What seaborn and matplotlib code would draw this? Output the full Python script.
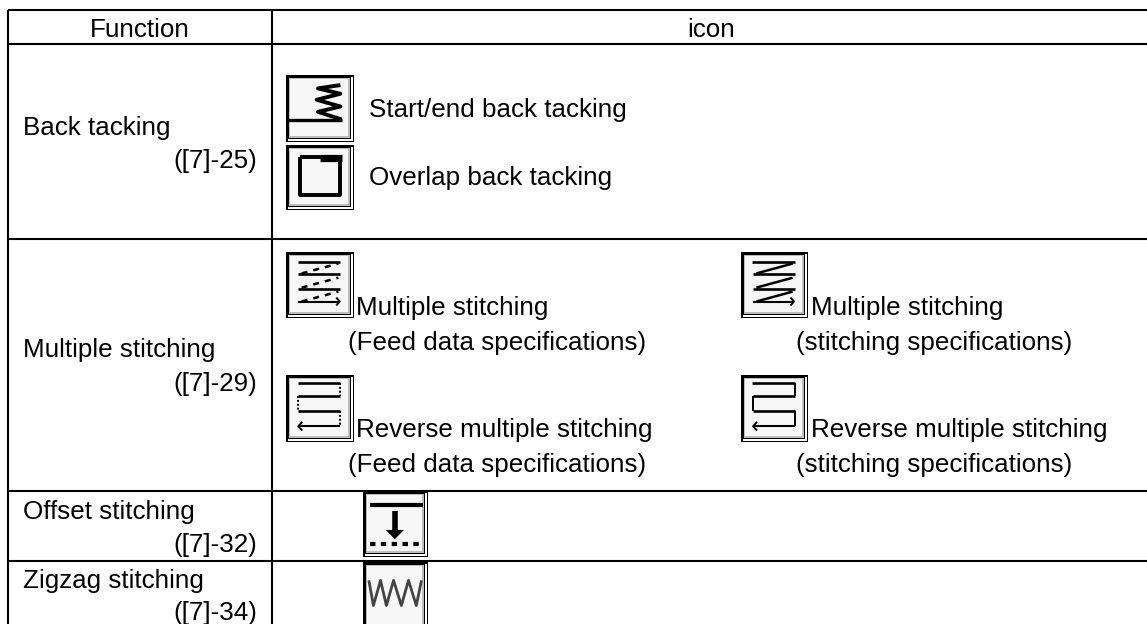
import matplotlib
matplotlib.use("Agg")
import matplotlib.pyplot as plt
from matplotlib.patches import Rectangle, Polygon
import seaborn as sns

sns.set_theme(style="white")
plt.rcParams['font.family'] = ['Liberation Sans', 'DejaVu Sans']

# ---- table content ----
headers = ["Function", "icon"]
function_names = ["Back tacking", "Multiple stitching", "Offset stitching", "Zigzag stitching"]
function_refs = ["([7]-25)", "([7]-29)", "([7]-32)", "([7]-34)"]
back_labels = ["Start/end back tacking", "Overlap back tacking"]
multi_titles = ["Multiple stitching", "Multiple stitching",
                "Reverse multiple stitching", "Reverse multiple stitching"]
multi_specs = ["(Feed data specifications)", "(stitching specifications)",
               "(Feed data specifications)", "(stitching specifications)"]

# ---- table geometry (pixels) ----
W, H = 1147, 624
row_lines = [10, 44, 239, 490.7, 560.7]
col_lines = [8, 272]
name_base = [135, 357, 519.5, 588]
ref_base = [168, 391, 552, 620]
back_base = [117, 185]
multi_title_base = [315, 315, 437, 437]
multi_spec_base = [350, 350, 472, 472]
multi_title_x = [356, 811, 356, 811]
multi_spec_x = [348, 796, 348, 796]

# ---- icon strokes: fractions of the icon box; (xs, ys, width, style) ----
icon_startend = [([0.03, 0.82], [0.665, 0.665], 2.4, '-'),
                 ([0.82, 0.47, 0.80, 0.45, 0.80, 0.47, 0.80],
                  [0.665, 0.55, 0.47, 0.37, 0.28, 0.20, 0.15], 2.8, '-')]
icon_overlap = [([0.20, 0.80, 0.80, 0.20, 0.20], [0.18, 0.18, 0.77, 0.77, 0.18], 2.8, '-'),
                ([0.50, 0.82], [0.20, 0.20], 5.2, '-')]
icon_multi_feed = [([0.17, 0.80], [0.15, 0.15], 1.9, '-'),
                   ([0.23, 0.77], [0.325, 0.175], 1.8, (0, (2.4, 2.4))),
                   ([0.18, 0.80], [0.34, 0.34], 1.9, '-'),
                   ([0.23, 0.77], [0.54, 0.39], 1.8, (0, (2.4, 2.4))),
                   ([0.18, 0.80], [0.56, 0.56], 1.9, '-'),
                   ([0.23, 0.77], [0.75, 0.60], 1.8, (0, (2.4, 2.4))),
                   ([0.18, 0.79], [0.75, 0.75], 1.5, '-'),
                   ([0.74, 0.79, 0.74], [0.69, 0.75, 0.81], 1.4, '-')]
icon_multi_stitch = [(xs, ys, w, '-') for xs, ys, w, _ in icon_multi_feed]
icon_rev_feed = [([0.17, 0.80], [0.125, 0.125], 1.9, '-'),
                 ([0.80, 0.80], [0.125, 0.315], 1.4, (0, (1, 1))),
                 ([0.80, 0.18], [0.315, 0.315], 1.9, '-'),
                 ([0.18, 0.18], [0.315, 0.535], 1.4, (0, (1, 1))),
                 ([0.18, 0.80], [0.535, 0.535], 1.9, '-'),
                 ([0.80, 0.80], [0.535, 0.765], 1.4, (0, (1, 1))),
                 ([0.80, 0.18], [0.765, 0.765], 1.5, '-'),
                 ([0.24, 0.18, 0.24], [0.70, 0.765, 0.83], 1.4, '-')]
icon_rev_stitch = [(xs, ys, w, '-') for xs, ys, w, _ in icon_rev_feed]
icon_offset = [([0.10, 0.92], [0.205, 0.205], 3.0, '-'),
               ([0.49, 0.49], [0.30, 0.60], 4.0, '-'),
               ([0.10, 0.92], [0.80, 0.80], 3.0, (0, (1.3, 1.3)))]
offset_head = [(0.35, 0.59), (0.63, 0.59), (0.49, 0.73)]
icon_zigzag = [([0.09, 0.16, 0.27, 0.36, 0.47, 0.59, 0.70, 0.82, 0.90],
                [0.27, 0.64, 0.27, 0.64, 0.27, 0.64, 0.27, 0.64, 0.27], 2.0, '-')]

# ---- icon boxes: left, top, right, bottom (pixels) ----
box_startend = (286, 75, 354, 142)
box_overlap = (286, 145, 354, 210)
box_multi_feed = (286, 252, 354, 318)
box_multi_stitch = (741, 252, 808, 318)
box_rev_feed = (286, 375, 354, 442)
box_rev_stitch = (741, 375, 808, 442)
box_offset = (363, 491, 428, 557)
box_zigzag = (363, 562, 428, 630)

fig = plt.figure(figsize=(W / 100, H / 100), dpi=100, facecolor="white")
ax = fig.add_axes([0, 0, 1, 1])
ax.set_xlim(0, W)
ax.set_ylim(H, 0)
ax.set_autoscale_on(False)
ax.axis("off")


def stroke(xs, ys, width, style='-', color='black', z=3):
    line_ax = sns.lineplot(x=list(range(len(xs))), y=list(ys), ax=ax, sort=False,
                           estimator=None, color=color, linewidth=width, zorder=z)
    ln = line_ax.lines[-1]
    ln.set_data(xs, ys)
    ln.set_linestyle(style)
    ln.set_solid_capstyle('butt')
    ln.set_dash_capstyle('butt')


def panel(x0, y0, x1, y1, color):
    ax.add_patch(Rectangle((x0, y0), x1 - x0, y1 - y0, fc=color, ec='none', zorder=2))


def draw_icon(box, strokes, color='black'):
    l, t, r, b = box
    w, h = r - l, b - t
    panel(l, t, r, b, 'black')
    panel(l + 1.5, t + 1.5, r - 1.5, b - 1.5, 'white')
    panel(l, t, r - 2.6, b - 2.6, 'black')
    panel(l + 3.2, t + 3.2, r - 4.4, b - 4.4, '#bdbdbd')
    panel(l + 4.4, t + 4.4, r - 5.6, b - 5.6, '#f7f7f7')
    for xs, ys, lw, ls in strokes:
        stroke([l + x * w for x in xs], [t + y * h for y in ys], lw, ls, color=color)


# table rules
for y in row_lines:
    stroke([col_lines[0], W], [y, y], 1.5, z=1)
for x in col_lines:
    stroke([x, x], [row_lines[0], H], 1.5, z=1)

# text
tx = dict(fontsize=18.7, color='black', va='baseline', zorder=4)
ax.text(140, 37, headers[0], ha='center', **tx)
ax.text(711, 37, headers[1], ha='center', **tx)
for name, ref, nb, rb in zip(function_names, function_refs, name_base, ref_base):
    ax.text(23, nb, name, ha='left', **tx)
    ax.text(257, rb, ref, ha='right', **tx)
for lab, b in zip(back_labels, back_base):
    ax.text(369, b, lab, ha='left', **tx)
for t, s, tb, sb, tx0, sx0 in zip(multi_titles, multi_specs, multi_title_base,
                                  multi_spec_base, multi_title_x, multi_spec_x):
    ax.text(tx0, tb, t, ha='left', **tx)
    ax.text(sx0, sb, s, ha='left', **tx)

# icons
draw_icon(box_startend, icon_startend)
draw_icon(box_overlap, icon_overlap)
draw_icon(box_multi_feed, icon_multi_feed)
draw_icon(box_multi_stitch, icon_multi_stitch)
draw_icon(box_rev_feed, icon_rev_feed)
draw_icon(box_rev_stitch, icon_rev_stitch)
draw_icon(box_offset, icon_offset)
draw_icon(box_zigzag, icon_zigzag, color='#444444')
l, t, r, b = box_offset
ax.add_patch(Polygon([(l + x * (r - l), t + y * (b - t)) for x, y in offset_head],
                     fc='black', ec='none', zorder=3))

fig.savefig("out.png", dpi=100, facecolor="white")
